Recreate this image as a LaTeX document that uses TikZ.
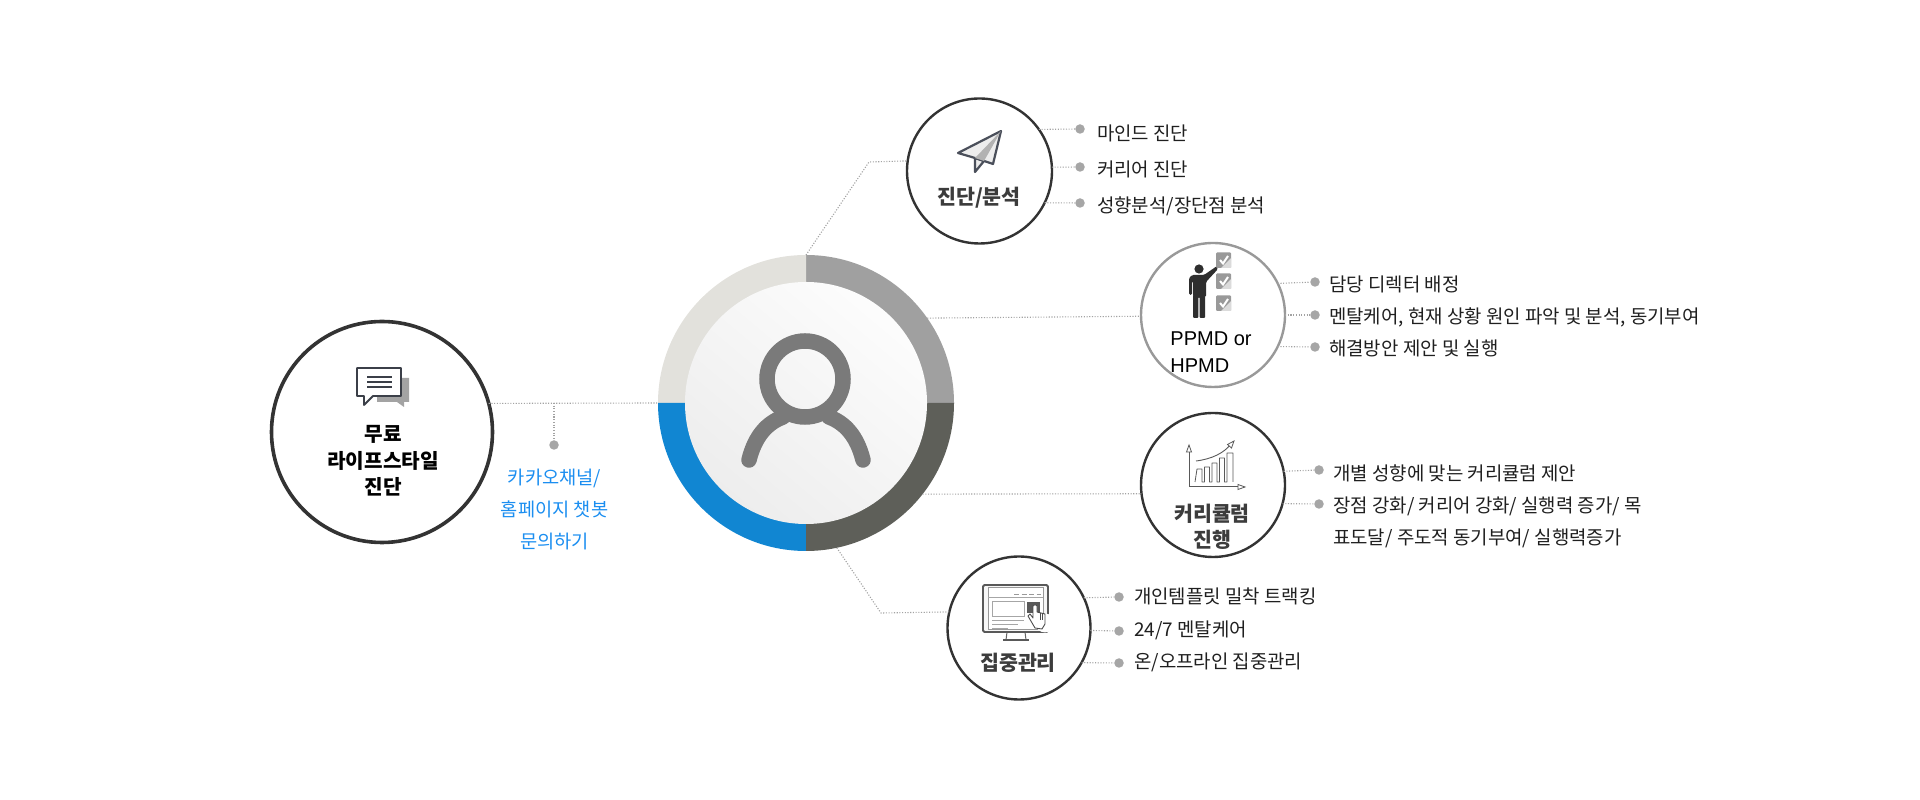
\documentclass[tikz,border=0pt]{standalone}
\usepackage{fontspec}
\setmainfont{Noto Sans CJK KR}
\newfontfamily\latinfont{Liberation Sans}
\definecolor{ringA}{HTML}{E2E1DC}
\definecolor{ringB}{HTML}{A0A0A0}
\definecolor{ringC}{HTML}{1186D2}
\definecolor{ringD}{HTML}{5E5F59}
\definecolor{iconcol}{HTML}{4A4F5A}
\definecolor{bluetext}{HTML}{1B8EF0}
\definecolor{titlecol}{HTML}{3C3C3C}
\tikzset{
  bigdisc/.style={circle,draw=#1,fill=white,inner sep=0pt,outer sep=0pt},
  leader/.style={draw=black!36,line width=1.1pt,dash pattern=on 1.1pt off 1.6pt},
  dot/.style={circle,fill=black!35,inner sep=0pt,minimum size=9.5pt},
  item/.style={anchor=base west,inner sep=0pt,font=\fontsize{18.9}{32}\selectfont,text=black!88},
  title/.style={inner sep=0pt,align=center,font=\bfseries\fontsize{20.6}{26}\selectfont,text=titlecol},
}
\begin{document}
\begin{tikzpicture}[x=1pt,y=1pt]
  \useasboundingbox (0,0) rectangle (1920,800);
  % centre ring
  \node[circle,minimum size=296pt,inner sep=0pt,outer sep=0pt] (ring) at (806,397) {};
  \foreach \from/\col in {0/ringB,90/ringA,180/ringC,270/ringD} {
    \fill[\col] (ring.center) -- (ring.\from) arc[start angle=\from,delta angle=90,radius=148];
  }
  \node[circle,minimum size=242pt,inner sep=0pt,shade,top color=black!1,bottom color=black!7,shading angle=-40] (face) at (ring.center) {};
  \draw[black!52,line width=15.5pt] (805,421) circle (38);
  \draw[black!52,line width=15.5pt,line cap=round] (749,340) .. controls (755,364) and (767,377) .. (783,383);
  \draw[black!52,line width=15.5pt,line cap=round] (863,340) .. controls (857,364) and (845,377) .. (829,383);
  % outer circles
  \node[bigdisc=black!80,line width=3.6pt,minimum size=221pt] (free) at (382,368) {};
  \node[bigdisc=black!80,line width=2.4pt,minimum size=145pt] (diag) at (979.5,629) {};
  \node[bigdisc=black!40,line width=2.4pt,minimum size=144pt] (ppmd) at (1213,485) {};
  \node[bigdisc=black!80,line width=2.4pt,minimum size=144pt] (career) at (1213,315) {};
  \node[bigdisc=black!80,line width=2.4pt,minimum size=143pt] (manage) at (1019,172) {};
  % connectors from the ring
  \coordinate (bendtop) at (869,638);
  \coordinate (bendlow) at (881,187);
  \node[dot] (dotfree) at (554,355) {};
  \coordinate (branch) at (dotfree |- ring.west);
  \draw[leader] (free.15) -- (ring.west);
  \draw[leader] (branch) -- (dotfree);
  \draw[leader] (ring.north) -- (bendtop) -- (diag.172.7);
  \draw[leader] (ring.35.5) -- (ppmd.181.5);
  \draw[leader] (ring.-38.4) -- (career.187.9);
  \draw[leader] (ring.-78.4) -- (bendlow) -- (manage.167.9);
  % dots beside each circle
  \foreach \nm/\y/\a in {dA/671/35.7,dB/633/3.2,dC/597/-26.4} {
    \node[dot] (\nm) at (1080,\y) {};
    \draw[leader] (diag.\a) -- (\nm);
  }
  \foreach \nm/\y/\a in {pA/518/26.9,pB/485/0,pC/453/-26} {
    \node[dot] (\nm) at (1315,\y) {};
    \draw[leader] (ppmd.\a) -- (\nm);
  }
  \foreach \nm/\y/\a in {cA/330/11.9,cB/296/-15.1} {
    \node[dot] (\nm) at (1319,\y) {};
    \draw[leader] (career.\a) -- (\nm);
  }
  \foreach \nm/\y/\a in {mA/203/25.5,mB/169/-2.4,mC/137/-29.1} {
    \node[dot] (\nm) at (1119,\y) {};
    \draw[leader] (manage.\a) -- (\nm);
  }
  % texts
  \node[title,text=black,font=\bfseries\fontsize{20.2}{26.5}\selectfont] (freetitle) at (383,339) {무료\\라이프스타일\\진단};
  \node[inner sep=0pt,align=center,text=bluetext,font=\fontsize{18.7}{32}\selectfont] (freenote) at (554.5,290) {카카오채널/\\홈페이지 챗봇\\문의하기};
  \node[title] (diagtitle) at (979,602) {진단/분석};
  \node[inner sep=0pt,align=left,font=\latinfont\fontsize{20}{27}\selectfont,text=black] (ppmdtitle) at (1211,448) {PPMD or\\HPMD};
  \node[title] (careertitle) at (1212,273.5) {커리큘럼\\진행};
  \node[title] (managetitle) at (1018,137) {집중관리};
  \node[item] (tA) at (1097,659) {마인드 진단};
  \node[item] (tB) at (1097,623) {커리어 진단};
  \node[item] (tC) at (1097,587) {성향분석/장단점 분석};
  \node[item] (tD) at (1329,508) {담당 디렉터 배정};
  \node[item] (tE) at (1329,476) {멘탈케어, 현재 상황 원인 파악 및 분석, 동기부여};
  \node[item] (tF) at (1329,444) {해결방안 제안 및 실행};
  \node[item] (tG) at (1333,319.5) {개별 성향에 맞는 커리큘럼 제안};
  \node[item,anchor=north west,align=left] (tH) at (1333,303) {장점 강화/ 커리어 강화/ 실행력 증가/ 목\\표도달/ 주도적 동기부여/ 실행력증가};
  \node[item] (tI) at (1134,196) {개인템플릿 밀착 트랙킹};
  \node[item] (tJ) at (1134,163) {24/7 멘탈케어};
  \node[item] (tK) at (1134,131) {온/오프라인 집중관리};
  % chat icon
  \fill[black!36] (377,422) -- (409,422) -- (409,398) -- (404,398) -- (404,393) -- (397,398) -- (377,398) -- cycle;
  \draw[iconcol!80!black,line width=1.8pt,fill=white,line join=round] (357,432) -- (401,432) -- (401,404) -- (373,404) -- (364,395) -- (364,404) -- (357,404) -- cycle;
  \foreach \y in {423,418,413} {
    \draw[iconcol!80!black,line width=1.4pt] (367,\y) -- (392,\y);
  }
  % paper plane
  \draw[iconcol,line width=2.2pt,fill=black!8,line join=round] (975,642) -- (975,628) -- (984,639) -- cycle;
  \draw[iconcol,line width=2.2pt,fill=black!7,line join=round] (1001,669) -- (958,647) -- (975,642) -- (993,636) -- cycle;
  \fill[black!30] (1001,669) -- (975,642) -- (984,639) -- cycle;
  % person and check boxes
  \fill[black!82] (1199,531) circle (4.6);
  \fill[black!82,rounded corners=1.5pt] (1189,505) -- (1189,522) -- (1192,525) -- (1204,525) -- (1217,534) -- (1218,531) -- (1206,518) -- (1206,503) -- (1193,503) -- (1193,519) -- (1192,519) -- (1192,505) -- cycle;
  \fill[black!82,rounded corners=1pt] (1193,505) -- (1193,482) -- (1198.4,482) -- (1198.4,503) -- (1199.6,503) -- (1199.6,482) -- (1205,482) -- (1205,505) -- cycle;
  \foreach \y in {532,511,489} {
    \fill[black!40,rounded corners=1pt] (1216,\y) rectangle ++(15,15.5);
    \fill[black!14] (1231,\y) -- ++(0,10) -- ++(-10,-10) -- cycle;
    \draw[white,line width=2pt] (1220,\y+8) -- ++(3,-3.5) -- ++(5,7.5);
  }
  % chart
  \draw[black!65,line width=1pt] (1189,352) -- (1189,313) -- (1240,313);
  \draw[black!65,line width=.8pt,fill=white] (1189,355) -- (1186.5,348) -- (1191.5,348) -- cycle;
  \draw[black!65,line width=.8pt,fill=white] (1245,313) -- (1238,315.5) -- (1238,310.5) -- cycle;
  \draw[black!65,line width=.8pt,line join=round] (1195,318) -- (1197,331) -- (1202,331) -- (1202,318) -- (1204.5,318) -- (1204.5,333) -- (1209.5,333) -- (1209.5,318) -- (1212,318) -- (1212,337) -- (1217,337) -- (1217,318) -- (1219.5,318) -- (1219.5,342) -- (1224.5,342) -- (1224.5,318) -- (1227,318) -- (1227,347) -- (1233,347) -- (1233,318);
  \draw[black!65,line width=.9pt] (1196,339) .. controls (1212,341) and (1224,347) .. (1231,356);
  \draw[black!65,line width=.8pt,fill=white] (1234,359) -- (1227.5,355.5) -- (1231.5,352) -- cycle;
  % monitor
  \draw[black!60,line width=1pt] (1007,168) -- (1006,160) (1025,168) -- (1026,160);
  \draw[black!65,line width=1.6pt] (1003,160) -- (1029,160);
  \draw[black!65,line width=1.8pt,rounded corners=1.5pt,fill=black!3] (983,215) rectangle (1048,168);
  \draw[black!40,line width=1pt,fill=white] (988,212) rectangle (1043,170);
  \draw[black!35,line width=1pt] (988,202) -- (1043,202);
  \draw[black!40,line width=1pt,dash pattern=on 5pt off 2.5pt] (1014,205) -- (1041,205);
  \draw[black!35,line width=1pt] (992,198) rectangle (1024,183);
  \fill[black!65] (1027,198) rectangle (1040,187);
  \foreach \y/\xe in {179/1024,175/1018,171/1008} {
    \draw[black!35,line width=1pt] (992,\y) -- (\xe,\y);
  }
  \fill[white] (1045,177) circle (9.5);
  \draw[black!70,line width=.9pt,fill=white,line join=round] (1035,172) -- (1028,184) -- (1030,186) -- (1033,182) -- (1033,194) .. controls (1034,196) and (1036,196) .. (1037,194) -- (1037,188) -- (1045,186) -- (1045,176) -- (1042,171) -- cycle;
  \draw[black!70,line width=.7pt] (1040,187) -- (1040,180) (1042.5,186.5) -- (1042.5,180);
\end{tikzpicture}
\end{document}
